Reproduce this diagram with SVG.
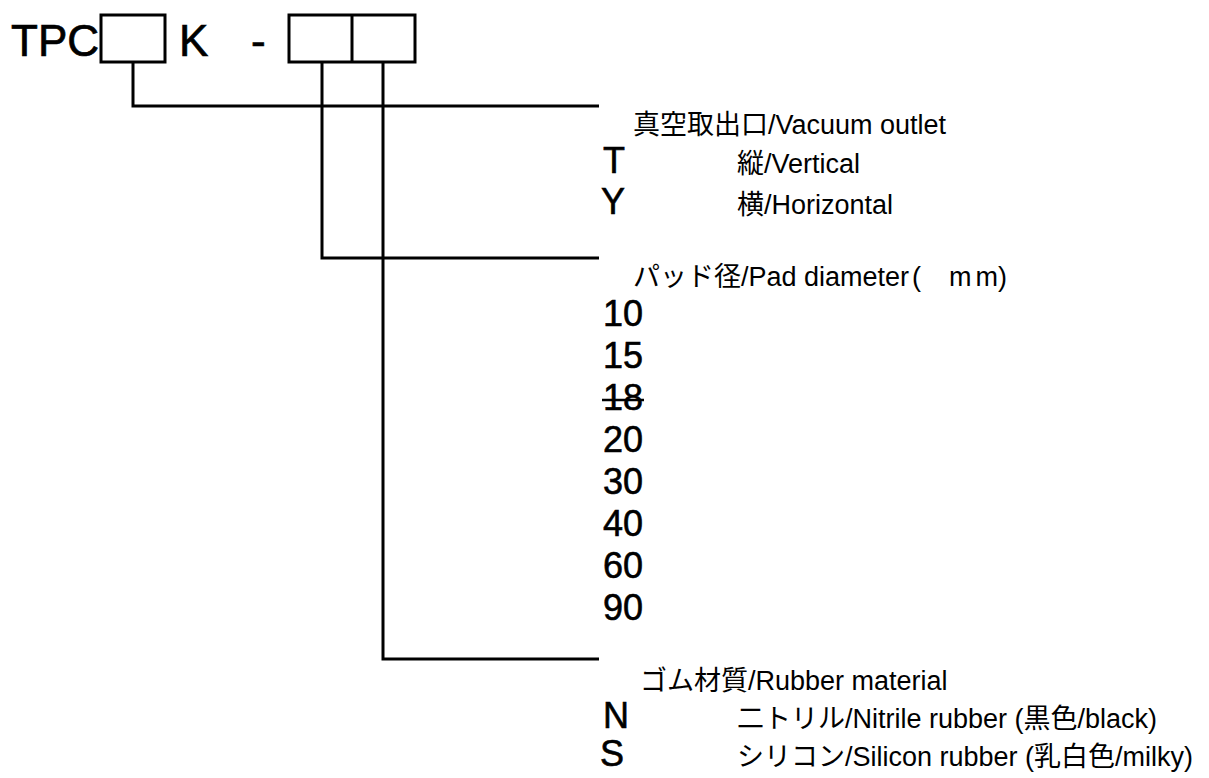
<svg xmlns="http://www.w3.org/2000/svg" width="1209" height="778" viewBox="0 0 1209 778">
<style>
.code{font-family:"Liberation Sans",Arial,sans-serif;font-size:44px;fill:#000;stroke:#000;stroke-width:0.7px}
.key{font-family:"Liberation Sans",Arial,sans-serif;font-size:36px;fill:#000;stroke:#000;stroke-width:0.6px}
.lbl{font-family:"Liberation Sans","Noto Sans CJK JP",sans-serif;font-size:27px;fill:#000}
.box{fill:#fff;stroke:#000;stroke-width:3}
.conn{fill:none;stroke:#000;stroke-width:3}
</style>
<rect width="1209" height="778" fill="#fff"/>
<g id="code">
<text class="code" x="11" y="56">TPC</text>
<rect class="box" x="101" y="15" width="64" height="47"/>
<text class="code" x="179" y="56">K</text>
<text class="code" x="251" y="56">-</text>
<rect class="box" x="289" y="15" width="126" height="47"/>
<line class="conn" x1="352" y1="15" x2="352" y2="62"/>
</g>
<g id="connectors">
<polyline class="conn" points="133,62 133,106 599,106"/>
<polyline class="conn" points="322,62 322,258 599,258"/>
<polyline class="conn" points="383,62 383,659 599,659"/>
</g>
<g id="vacuum-outlet">
<text class="lbl" x="633" y="134">真空取出口/Vacuum outlet</text>
<text class="key" x="603" y="173">T</text>
<text class="lbl" x="737" y="173">縦/Vertical</text>
<text class="key" x="601" y="214">Y</text>
<text class="lbl" x="737" y="214">横/Horizontal</text>
</g>
<g id="pad-diameter">
<text class="lbl" x="633" y="286">パッド径/Pad diameter<tspan dx="3">(</tspan><tspan dx="28">m</tspan><tspan dx="4">m</tspan>)</text>
<text class="key" x="603" y="326">10</text>
<text class="key" x="603" y="368">15</text>
<text class="key" x="603" y="410">18</text>
<line x1="602" y1="400" x2="644" y2="400" stroke="#000" stroke-width="2.5"/>
<text class="key" x="603" y="452">20</text>
<text class="key" x="603" y="494">30</text>
<text class="key" x="603" y="536">40</text>
<text class="key" x="603" y="578">60</text>
<text class="key" x="603" y="620">90</text>
</g>
<g id="rubber-material">
<text class="lbl" x="640" y="690">ゴム材質/Rubber material</text>
<text class="key" x="603" y="728">N</text>
<text class="lbl" x="737" y="728">二トリル/Nitrile rubber (黒色/black)</text>
<text class="key" x="600" y="766">S</text>
<text class="lbl" x="737" y="766">シリコン/Silicon rubber (乳白色/milky)</text>
</g>
</svg>
